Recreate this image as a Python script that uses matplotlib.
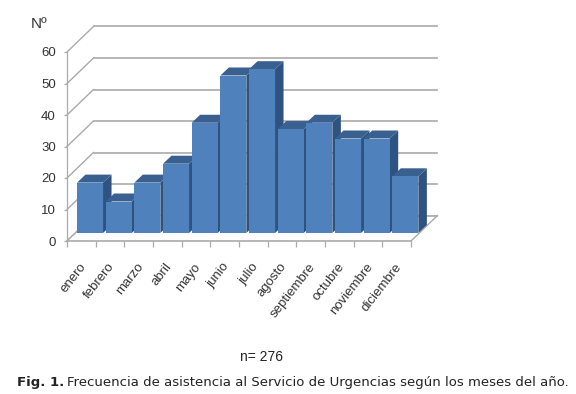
import matplotlib
matplotlib.use('Agg')
import matplotlib.pyplot as plt
from matplotlib.patches import Polygon
from matplotlib.transforms import ScaledTranslation

# datos
meses = ['enero', 'febrero', 'marzo', 'abril', 'mayo', 'junio', 'julio',
         'agosto', 'septiembre', 'octubre', 'noviembre', 'diciembre']
valores = [16, 10, 16, 22, 35, 50, 52, 33, 35, 30, 30, 18]
ticks_y = [0, 10, 20, 30, 40, 50, 60]

W, H = 576, 394
fig = plt.figure(figsize=(W / 100, H / 100), dpi=100)
# front plane of the fake 3d box
x0, x1, y0, y1 = 67, 411, 241, 52
ax = fig.add_axes([x0 / W, 1 - y0 / H, (x1 - x0) / W, (y0 - y1) / H])
ax.set_xlim(0, 12)
ax.set_ylim(0, 60)
ax.patch.set_visible(False)
for s in ['top', 'right', 'bottom']:
    ax.spines[s].set_visible(False)
ax.spines['left'].set_color('#aaaaaa')
ax.spines['left'].set_linewidth(0.9)

# pixels -> data units
px = 12 / (x1 - x0)
py = 60 / (y0 - y1)
prof_x, prof_y = 26.5 * px, 25.5 * py  # depth of the box
gris = '#aaaaaa'
lw_h, lw_d = 1.2, 1.0

# back wall
for v in ticks_y:
    ax.plot([0, prof_x], [v, v + prof_y], color=gris, lw=lw_d, clip_on=False, zorder=1)
    ax.plot([prof_x, 12 + prof_x], [v + prof_y, v + prof_y], color=gris, lw=lw_h, clip_on=False, zorder=1)
# white floor so the back line only shows on the right of the bars
ax.add_patch(Polygon([(0, 0), (12, 0), (12 + prof_x, prof_y), (prof_x, prof_y)], closed=True,
                     fc='white', ec='none', zorder=1.5, clip_on=False))
ax.plot([0, 12], [0, 0], color=gris, lw=lw_h, clip_on=False, zorder=1.6)
ax.plot([12, 12 + prof_x], [0, prof_y], color=gris, lw=lw_d, clip_on=False, zorder=1.6)
ax.plot([0, prof_x], [0, prof_y], color=gris, lw=lw_d, clip_on=False, zorder=1.6)
ax.plot([11.5, 12 + prof_x], [prof_y, prof_y], color=gris, lw=lw_h, clip_on=False, zorder=1.6)

# bars, drawn left to right so each one covers the side of the previous
ancho = 26 * px
base = 8 * py
dx, dy = 8.5 * px, 8 * py
for i, v in enumerate(valores):
    izq = i + 0.35
    der = izq + ancho
    arr = base + v
    z = 2 + i * 0.01
    ax.bar(izq, v, width=ancho, bottom=base, align='edge', color='#4f81bd', edgecolor='none',
           zorder=z + 0.002, clip_on=False)
    ax.add_patch(Polygon([(der, base), (der + dx, base + dy), (der + dx, arr + dy), (der, arr)],
                         closed=True, fc='#2f5380', ec='none', zorder=z, clip_on=False))
    ax.add_patch(Polygon([(izq, arr), (izq + dx, arr + dy), (der + dx, arr + dy), (der, arr)],
                         closed=True, fc='#3a6090', ec='none', zorder=z + 0.001, clip_on=False))

# axes ticks
fuente = 'Liberation Sans'
ax.set_yticks(ticks_y)
ax.set_yticklabels(ticks_y, fontfamily=fuente)
ax.tick_params(axis='y', length=2.5, width=0.9, color=gris, labelsize=9.5, labelcolor='#333333', pad=5.5)
ax.set_xticks(range(13))
ax.tick_params(axis='x', which='major', length=4, width=0.9, color=gris, labelbottom=False)
ax.set_xticks([i + 0.5 for i in range(12)], minor=True)
ax.set_xticklabels(meses, minor=True, rotation=52, ha='right', va='center', rotation_mode='anchor',
                   fontsize=9.5, color='#333333', fontfamily=fuente)
ax.tick_params(axis='x', which='minor', length=0, pad=17)
corrimiento = ScaledTranslation(2.5 / 100, 0, fig.dpi_scale_trans)
for t in ax.get_xticklabels(minor=True):
    t.set_transform(t.get_transform() + corrimiento)

fig.text(31 / W, 1 - 24 / H, 'Nº', fontsize=11, color='#333333', va='center', fontfamily=fuente)
fig.text(262 / W, 1 - 357 / H, 'n= 276', fontsize=10, color='#222222', ha='center', va='center', fontfamily=fuente)
fig.text(17 / W, 1 - 382.5 / H, 'Fig. 1.', fontsize=9.5, fontweight='bold', color='#222222', va='center')
fig.text(67 / W, 1 - 382.5 / H, 'Frecuencia de asistencia al Servicio de Urgencias según los meses del año.',
         fontsize=9.55, color='#222222', va='center')

fig.savefig('out.png', dpi=100)
